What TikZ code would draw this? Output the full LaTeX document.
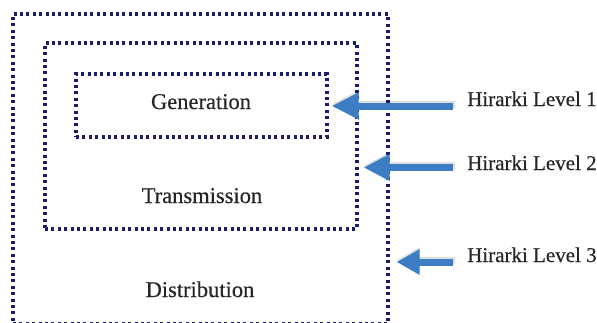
\documentclass[tikz,border=0pt]{standalone}
\usepackage{fontspec}
\setmainfont[FakeBold=0.4]{Liberation Serif}
\usetikzlibrary{arrows.meta}
\definecolor{navy}{HTML}{1C1C6B}
\definecolor{arrblue}{HTML}{3D7DC4}
\tikzset{
  dotbox/.style={draw=navy, line width=3.2pt, dash pattern=on 3pt off 3.4pt,
    inner sep=0pt, rectangle},
  lbl/.style={font=\fontsize{21pt}{24pt}\selectfont, inner sep=0pt, text=black!85},
  boxlbl/.style={font=\fontsize{22.5pt}{26pt}\selectfont, inner sep=0pt, text=black!85},
  arr/.style={draw=arrblue, line width=7pt, shorten >=0pt},
  arrshadow/.style={draw=black, opacity=0.12, line width=7pt},
}
\begin{document}
\begin{tikzpicture}[x=1pt,y=-1pt]
\useasboundingbox (0,0) rectangle (597,322);
\clip (0,0) rectangle (597,322);
\fill[white] (0,0) rectangle (597,322);
% boxes
\node[dotbox, minimum width=375pt, minimum height=309.5pt] (dist) at (200.5,168.75) {};
\node[dotbox, minimum width=312pt, minimum height=186pt] (trans) at (201,136) {};
\node[dotbox, minimum width=251pt, minimum height=63pt] (gen) at (201.5,105.5) {};
% box texts
\node[boxlbl, anchor=base] (tgen) at (201,109) {Generation};
\node[boxlbl, anchor=base] (ttrans) at (202,203) {Transmission};
\node[boxlbl, anchor=base] (tdist) at (200,297) {Distribution};
% labels
\node[lbl, anchor=base west] (l1) at (467,106) {Hirarki Level 1};
\node[lbl, anchor=base west] (l2) at (467,170) {Hirarki Level 2};
\node[lbl, anchor=base west] (l3) at (467,262) {Hirarki Level 3};
% arrow tails
\coordinate (a1) at (453,106);
\coordinate (a2) at (453,167.5);
\coordinate (a3) at (453,262);
% shadows
\draw[arrshadow, -{Triangle[width=25pt,length=27pt]}] ([shift={(1.5pt,2pt)}]a1) -- ([shift={(3pt,2pt)}]a1 -| gen.east);
\draw[arrshadow, -{Triangle[width=25pt,length=26pt]}] ([shift={(1.5pt,2pt)}]a2) -- ([shift={(5pt,2pt)}]a2 -| trans.east);
\draw[arrshadow, -{Triangle[width=24pt,length=23pt]}] ([shift={(1.5pt,2pt)}]a3) -- ([shift={(7pt,2pt)}]a3 -| dist.east);
% arrows
\draw[arr, -{Triangle[width=25pt,length=27pt]}] (a1) -- ([xshift=3pt]a1 -| gen.east);
\draw[arr, -{Triangle[width=25pt,length=26pt]}] (a2) -- ([xshift=5pt]a2 -| trans.east);
\draw[arr, -{Triangle[width=24pt,length=23pt]}] (a3) -- ([xshift=7pt]a3 -| dist.east);
\end{tikzpicture}
\end{document}
